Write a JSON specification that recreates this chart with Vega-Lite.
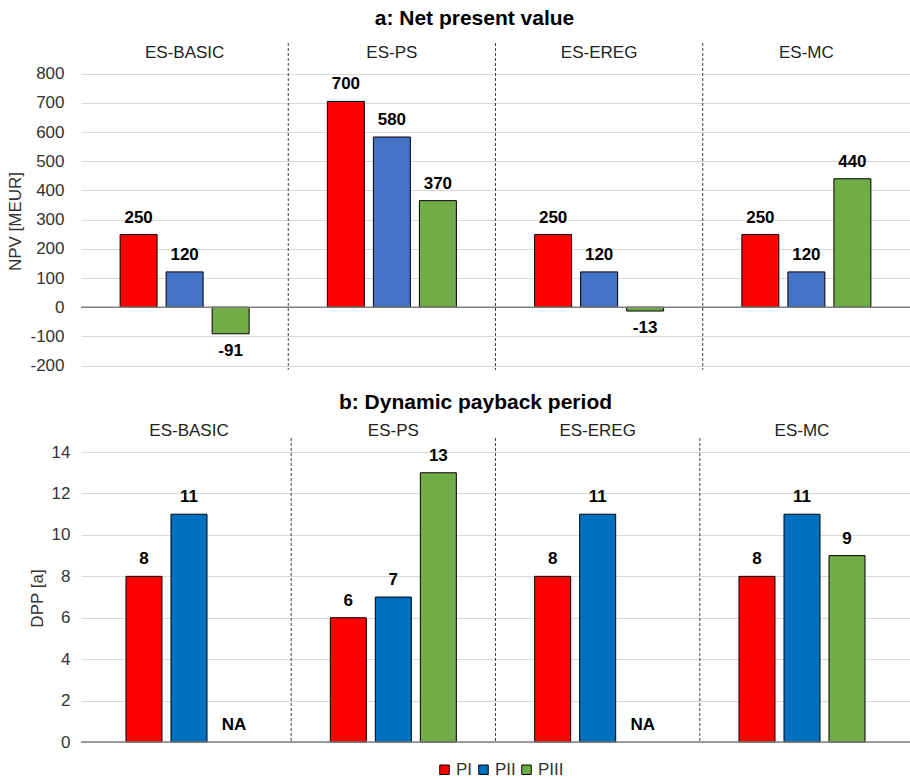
{
  "$schema": "https://vega.github.io/schema/vega-lite/v6.json",
  "padding": {"left": 6, "top": 7, "right": 0, "bottom": 0},
  "background": "white",
  "bounds": "flush",
  "spacing": 68,
  "config": {
    "font": "Liberation Sans",
    "view": {"stroke": null},
    "axisY": {
      "grid": true, "gridColor": "#D9D9D9", "gridWidth": 1.2,
      "domain": false, "ticks": false, "labelOverlap": false,
      "labelFont": "Liberation Sans", "labelFontSize": 17, "labelColor": "#333333",
      "labelExpr": "datum.value < 0 ? '-' + abs(datum.value) : '' + datum.value",
      "titleFont": "Liberation Sans", "titleFontSize": 17, "titleFontWeight": "normal", "titleColor": "#333333",
      "titlePadding": 5
    }
  },
  "resolve": {"scale": {"color": "independent", "x": "independent", "y": "independent", "xOffset": "independent"}},
  "datasets": {
    "npv": [
      {"group": "ES-BASIC", "series": "PI", "value": 249, "label": "250"},
      {"group": "ES-BASIC", "series": "PII", "value": 121, "label": "120"},
      {"group": "ES-BASIC", "series": "PIII", "value": -91, "label": "-91"},
      {"group": "ES-PS", "series": "PI", "value": 705, "label": "700"},
      {"group": "ES-PS", "series": "PII", "value": 583, "label": "580"},
      {"group": "ES-PS", "series": "PIII", "value": 365, "label": "370"},
      {"group": "ES-EREG", "series": "PI", "value": 249, "label": "250"},
      {"group": "ES-EREG", "series": "PII", "value": 121, "label": "120"},
      {"group": "ES-EREG", "series": "PIII", "value": -13, "label": "-13"},
      {"group": "ES-MC", "series": "PI", "value": 249, "label": "250"},
      {"group": "ES-MC", "series": "PII", "value": 121, "label": "120"},
      {"group": "ES-MC", "series": "PIII", "value": 440, "label": "440"}
    ],
    "dpp": [
      {"group": "ES-BASIC", "series": "PI", "value": 8, "label": "8"},
      {"group": "ES-BASIC", "series": "PII", "value": 11, "label": "11"},
      {"group": "ES-BASIC", "series": "PIII", "value": null, "label": "NA"},
      {"group": "ES-PS", "series": "PI", "value": 6, "label": "6"},
      {"group": "ES-PS", "series": "PII", "value": 7, "label": "7"},
      {"group": "ES-PS", "series": "PIII", "value": 13, "label": "13"},
      {"group": "ES-EREG", "series": "PI", "value": 8, "label": "8"},
      {"group": "ES-EREG", "series": "PII", "value": 11, "label": "11"},
      {"group": "ES-EREG", "series": "PIII", "value": null, "label": "NA"},
      {"group": "ES-MC", "series": "PI", "value": 8, "label": "8"},
      {"group": "ES-MC", "series": "PII", "value": 11, "label": "11"},
      {"group": "ES-MC", "series": "PIII", "value": 9, "label": "9"}
    ],
    "groups": [
      {"group": "ES-BASIC"}, {"group": "ES-PS"}, {"group": "ES-EREG"}, {"group": "ES-MC"}
    ]
  },
  "vconcat": [
    {
      "width": 829,
      "height": 327,
      "title": {"text": "a: Net present value", "fontSize": 21, "fontWeight": "bold", "color": "black", "anchor": "middle", "frame": "group", "dx": -21, "offset": 14},
      "layer": [
        {
          "data": {"name": "npv"},
          "mark": {"type": "bar", "stroke": "black", "strokeWidth": 1},
          "encoding": {
            "x": {"field": "group", "type": "nominal", "axis": null, "scale": {"type": "band", "domain": ["ES-BASIC", "ES-PS", "ES-EREG", "ES-MC"], "paddingInner": 0, "paddingOuter": 0}},
            "xOffset": {"field": "series", "type": "nominal", "scale": {"domain": ["PI", "PII", "PIII"], "paddingInner": 0.196, "paddingOuter": 0.85}},
            "y": {"field": "value", "type": "quantitative", "scale": {"domain": [-215, 905], "nice": false, "zero": false}, "axis": {"title": "NPV [MEUR]", "values": [-200, -100, 0, 100, 200, 300, 400, 500, 600, 700, 800], "labelPadding": 17, "titleY": 178}},
            "color": {"field": "series", "type": "nominal", "scale": {"domain": ["PI", "PII", "PIII"], "range": ["#FF0000", "#4472C4", "#70AD47"]}, "legend": null}
          }
        },
        {
          "data": {"name": "groups"},
          "transform": [{"filter": "datum.group !== 'ES-BASIC'"}],
          "mark": {"type": "rule", "strokeDash": [3, 2], "color": "#404040", "strokeWidth": 1},
          "encoding": {"x": {"field": "group", "type": "nominal", "bandPosition": 0}}
        },
        {
          "data": {"values": [{"z": 0}]},
          "mark": {"type": "rule", "color": "#7F7F7F", "strokeWidth": 1.5},
          "encoding": {"y": {"datum": 0, "axis": {"title": "NPV [MEUR]", "values": [-200, -100, 0, 100, 200, 300, 400, 500, 600, 700, 800], "labelPadding": 17, "titleY": 178}}}
        },
        {
          "data": {"name": "npv"},
          "transform": [{"filter": "datum.value >= 0"}],
          "mark": {"type": "text", "fontSize": 17, "fontWeight": "bold", "color": "black", "dy": -17, "baseline": "middle"},
          "encoding": {
            "x": {"field": "group", "type": "nominal"},
            "xOffset": {"field": "series", "type": "nominal"},
            "y": {"field": "value", "type": "quantitative", "axis": {"title": "NPV [MEUR]", "values": [-200, -100, 0, 100, 200, 300, 400, 500, 600, 700, 800], "labelPadding": 17, "titleY": 178}},
            "text": {"field": "label"}
          }
        },
        {
          "data": {"name": "npv"},
          "transform": [{"filter": "datum.value < 0"}],
          "mark": {"type": "text", "fontSize": 17, "fontWeight": "bold", "color": "black", "dy": 17, "baseline": "middle"},
          "encoding": {
            "x": {"field": "group", "type": "nominal"},
            "xOffset": {"field": "series", "type": "nominal"},
            "y": {"field": "value", "type": "quantitative", "axis": {"title": "NPV [MEUR]", "values": [-200, -100, 0, 100, 200, 300, 400, 500, 600, 700, 800], "labelPadding": 17, "titleY": 178}},
            "text": {"field": "label"}
          }
        },
        {
          "data": {"name": "groups"},
          "mark": {"type": "text", "fontSize": 17, "color": "#222222", "baseline": "middle"},
          "encoding": {
            "x": {"field": "group", "type": "nominal"},
            "y": {"datum": 871, "axis": {"title": "NPV [MEUR]", "values": [-200, -100, 0, 100, 200, 300, 400, 500, 600, 700, 800], "labelPadding": 17, "titleY": 178}},
            "text": {"field": "group"}
          }
        }
      ]
    },
    {
      "width": 829,
      "height": 304,
      "title": {"text": "b: Dynamic payback period", "fontSize": 21, "fontWeight": "bold", "color": "black", "anchor": "middle", "frame": "group", "dx": -20, "offset": 9},
      "layer": [
        {
          "data": {"name": "dpp"},
          "mark": {"type": "bar", "stroke": "black", "strokeWidth": 1},
          "encoding": {
            "x": {"field": "group", "type": "nominal", "axis": null, "scale": {"type": "band", "domain": ["ES-BASIC", "ES-PS", "ES-EREG", "ES-MC"], "paddingInner": 0, "paddingOuter": 0.0285}},
            "xOffset": {"field": "series", "type": "nominal", "scale": {"domain": ["PI", "PII", "PIII"], "paddingInner": 0.2, "paddingOuter": 0.87}},
            "y": {"field": "value", "type": "quantitative", "scale": {"domain": [0, 14.68], "nice": false, "zero": false}, "axis": {"title": "DPP [a]", "values": [0, 2, 4, 6, 8, 10, 12, 14], "labelPadding": 11, "titleY": 160}},
            "color": {"field": "series", "type": "nominal", "scale": {"domain": ["PI", "PII", "PIII"], "range": ["#FF0000", "#0070C0", "#70AD47"]},
              "legend": {"orient": "none", "legendX": 355, "legendY": 323, "direction": "horizontal", "title": null, "symbolType": "square", "symbolSize": 90, "symbolStrokeColor": "black", "symbolStrokeWidth": 1, "labelFontSize": 17, "labelColor": "#333333", "labelOffset": 3, "columnPadding": 2}}
          }
        },
        {
          "data": {"name": "groups"},
          "transform": [{"filter": "datum.group !== 'ES-BASIC'"}],
          "mark": {"type": "rule", "strokeDash": [3, 2], "color": "#404040", "strokeWidth": 1},
          "encoding": {"x": {"field": "group", "type": "nominal", "bandPosition": 0}}
        },
        {
          "data": {"values": [{"z": 0}]},
          "mark": {"type": "rule", "color": "#7F7F7F", "strokeWidth": 1.5},
          "encoding": {"y": {"datum": 0, "axis": {"title": "DPP [a]", "values": [0, 2, 4, 6, 8, 10, 12, 14], "labelPadding": 11, "titleY": 160}}}
        },
        {
          "data": {"name": "dpp"},
          "transform": [{"filter": "datum.value != null"}],
          "mark": {"type": "text", "fontSize": 17, "fontWeight": "bold", "color": "black", "dy": -17, "baseline": "middle"},
          "encoding": {
            "x": {"field": "group", "type": "nominal"},
            "xOffset": {"field": "series", "type": "nominal"},
            "y": {"field": "value", "type": "quantitative", "axis": {"title": "DPP [a]", "values": [0, 2, 4, 6, 8, 10, 12, 14], "labelPadding": 11, "titleY": 160}},
            "text": {"field": "label"}
          }
        },
        {
          "data": {"name": "dpp"},
          "transform": [{"filter": "datum.value == null"}],
          "mark": {"type": "text", "fontSize": 17, "fontWeight": "bold", "color": "black", "dy": -17, "baseline": "middle"},
          "encoding": {
            "x": {"field": "group", "type": "nominal"},
            "xOffset": {"field": "series", "type": "nominal"},
            "y": {"datum": 0, "axis": {"title": "DPP [a]", "values": [0, 2, 4, 6, 8, 10, 12, 14], "labelPadding": 11, "titleY": 160}},
            "text": {"field": "label"}
          }
        },
        {
          "data": {"name": "groups"},
          "mark": {"type": "text", "fontSize": 17, "color": "#222222", "baseline": "middle"},
          "encoding": {
            "x": {"field": "group", "type": "nominal"},
            "y": {"datum": 15.02, "axis": {"title": "DPP [a]", "values": [0, 2, 4, 6, 8, 10, 12, 14], "labelPadding": 11, "titleY": 160}},
            "text": {"field": "group"}
          }
        }
      ]
    }
  ]
}
